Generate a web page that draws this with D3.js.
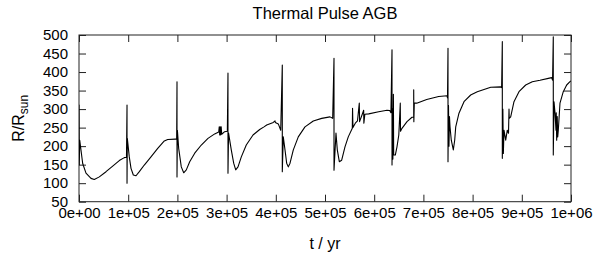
<!DOCTYPE html>
<html>
<head>
<meta charset="utf-8">
<script src="https://cdn.jsdelivr.net/npm/d3@7"></script>
<style>
  body { margin: 0; background: #fff; }
  svg { display: block; }
  text { font-family: "Liberation Sans", Arial, sans-serif; fill: #000; }
</style>
</head>
<body>
<svg id="chart" width="602" height="254"></svg>
<script>
// time in years, radius in solar radii
var timeYr = [
    0, 0, 500, 1500, 3000, 7500, 14200, 24400, 31100, 41300, 54900, 68500, 81900, 92100, 96500,
    97600, 97600, 98200, 102200, 105700, 110400, 115900, 122600, 132700, 146300, 160000, 173400, 180300, 195700, 198500,
    199200, 199200, 200000, 202600, 207900, 212800, 218100, 225000, 235200, 248600, 262200, 275800, 284000, 285000, 286000,
    287000, 288000, 289000, 290000, 296100, 301500, 302800, 302800, 304000, 309500, 314400, 318500, 323200, 329900, 340000,
    353700, 367300, 376000, 381500, 394900, 398400, 399000, 405100, 410000, 413200, 413200, 415200, 418700, 422100, 425400,
    428900, 435600, 445700, 459300, 476200, 493300, 510100, 515600, 518300, 518300, 522300, 525000, 529100, 533900, 540600,
    547300, 555500, 556000, 556800, 561600, 566000, 569700, 570300, 575200, 578600, 579000, 581000, 588800, 609100, 626000,
    631500, 634000, 636200, 636200, 637500, 638000, 639000, 639600, 642900, 646300, 650000, 653000, 653500, 656500, 666700,
    676800, 680300, 680300, 680600, 681500, 686400, 706700, 731100, 748000, 749000, 750000, 750000, 751000, 752000, 753000,
    754100, 756700, 760800, 763600, 765700, 772300, 782500, 796100, 809500, 823200, 836800, 857100, 859000, 860400, 860400,
    861500, 862500, 863800, 867300, 870500, 873000, 874000, 874500, 877400, 884100, 894300, 907900, 921300, 937000, 953900,
    960700, 962500, 964000, 964000, 965500, 967500, 969500, 970000, 970900, 972000, 973000, 974200, 977600, 984300, 991200,
    997900, 1000000
];
var radiusRsun = [
    180, 311, 150, 216, 200, 153, 127, 113, 110, 117, 131, 146, 161, 169, 170,
    311, 100, 221, 171, 140, 122, 120, 131, 149, 171, 194, 214, 218, 219, 219,
    374, 117, 243, 194, 144, 128, 136, 158, 181, 203, 221, 233, 238, 252, 230,
    252, 230, 252, 232, 239, 240, 397, 127, 235, 190, 154, 136, 144, 171, 203,
    230, 245, 252, 257, 264, 268, 264, 260, 243, 419, 131, 225, 190, 154, 144,
    154, 190, 225, 252, 268, 275, 279, 275, 437, 135, 235, 190, 158, 162, 198,
    225, 248, 302, 250, 262, 268, 316, 266, 284, 297, 262, 286, 287, 293, 297,
    296, 290, 460, 149, 300, 165, 340, 176, 176, 198, 230, 316, 240, 248, 266,
    278, 278, 352, 266, 316, 316, 326, 334, 336, 330, 464, 158, 310, 200, 280,
    252, 216, 190, 216, 252, 289, 320, 338, 347, 353, 359, 360, 358, 482, 167,
    300, 180, 243, 216, 243, 235, 300, 275, 279, 320, 347, 365, 374, 378, 383,
    385, 378, 495, 176, 320, 289, 243, 290, 216, 280, 225, 243, 316, 347, 365,
    374, 376
];
var xTicks = [0, 1e5, 2e5, 3e5, 4e5, 5e5, 6e5, 7e5, 8e5, 9e5, 1e6];
var yTicks = [50, 100, 150, 200, 250, 300, 350, 400, 450, 500];

var margin = {top: 35, right: 31, bottom: 52.3, left: 79};
var width = 602 - margin.left - margin.right;
var height = 254 - margin.top - margin.bottom;

var svg = d3.select("#chart");
var g = svg.append("g").attr("transform", "translate(" + margin.left + "," + margin.top + ")");

var x = d3.scaleLinear().domain([0, 1e6]).range([0, width]);
var y = d3.scaleLinear().domain([50, 500]).range([height, 0]);

// gnuplot style exponent labels, e.g. 1e+05
function expFormat(d) {
    var parts = d.toExponential(0).split("e");
    var exp = parts[1];
    return parts[0] + "e" + exp[0] + exp.slice(1).padStart(2, "0");
}

var tickLen = 7;

var xAxis = g.append("g")
    .attr("transform", "translate(0," + height + ")")
    .call(d3.axisBottom(x).tickValues(xTicks).tickFormat(expFormat)
        .tickSizeInner(-tickLen).tickSizeOuter(0).tickPadding(6));
var xTop = g.append("g")
    .call(d3.axisTop(x).tickValues(xTicks).tickFormat("")
        .tickSizeInner(-tickLen).tickSizeOuter(0));
var yAxis = g.append("g")
    .call(d3.axisLeft(y).tickValues(yTicks)
        .tickSizeInner(-tickLen).tickSizeOuter(0).tickPadding(11));
var yRight = g.append("g")
    .attr("transform", "translate(" + width + ",0)")
    .call(d3.axisRight(y).tickValues(yTicks).tickFormat("")
        .tickSizeInner(-tickLen).tickSizeOuter(0));

[xAxis, xTop, yAxis, yRight].forEach(function (a) {
    a.select(".domain").remove();
    a.selectAll("line").attr("stroke", "#222");
    a.selectAll("text")
        .style("font-family", "\"Liberation Sans\", Arial, sans-serif")
        .style("font-size", "15px")
        .attr("fill", "#000");
});

g.append("rect")
    .attr("x", 0).attr("y", 0)
    .attr("width", width).attr("height", height)
    .attr("fill", "none")
    .attr("stroke", "#222")
    .attr("stroke-width", 1);

g.append("clipPath").attr("id", "plot-clip")
    .append("rect").attr("width", width).attr("height", height);

var points = timeYr.map(function (t, i) { return [t, radiusRsun[i]]; });

var line = d3.line()
    .x(function (d) { return x(d[0]); })
    .y(function (d) { return y(d[1]); });

g.append("path")
    .datum(points)
    .attr("clip-path", "url(#plot-clip)")
    .attr("fill", "none")
    .attr("stroke", "#000")
    .attr("stroke-width", 1.1)
    .attr("stroke-linejoin", "round")
    .attr("d", line);

// title
svg.append("text")
    .attr("x", margin.left + width / 2)
    .attr("y", 19)
    .attr("text-anchor", "middle")
    .style("font-size", "16.5px")
    .text("Thermal Pulse AGB");

// axis labels
svg.append("text")
    .attr("x", margin.left + width / 2)
    .attr("y", 249)
    .attr("text-anchor", "middle")
    .style("font-size", "16px")
    .text("t / yr");

var ylab = svg.append("text")
    .attr("transform", "translate(24," + (margin.top + height / 2) + ") rotate(-90)")
    .attr("text-anchor", "middle")
    .style("font-size", "16px");
ylab.append("tspan").text("R/R");
ylab.append("tspan").attr("dy", 4).style("font-size", "12px").text("sun");
</script>
</body>
</html>
